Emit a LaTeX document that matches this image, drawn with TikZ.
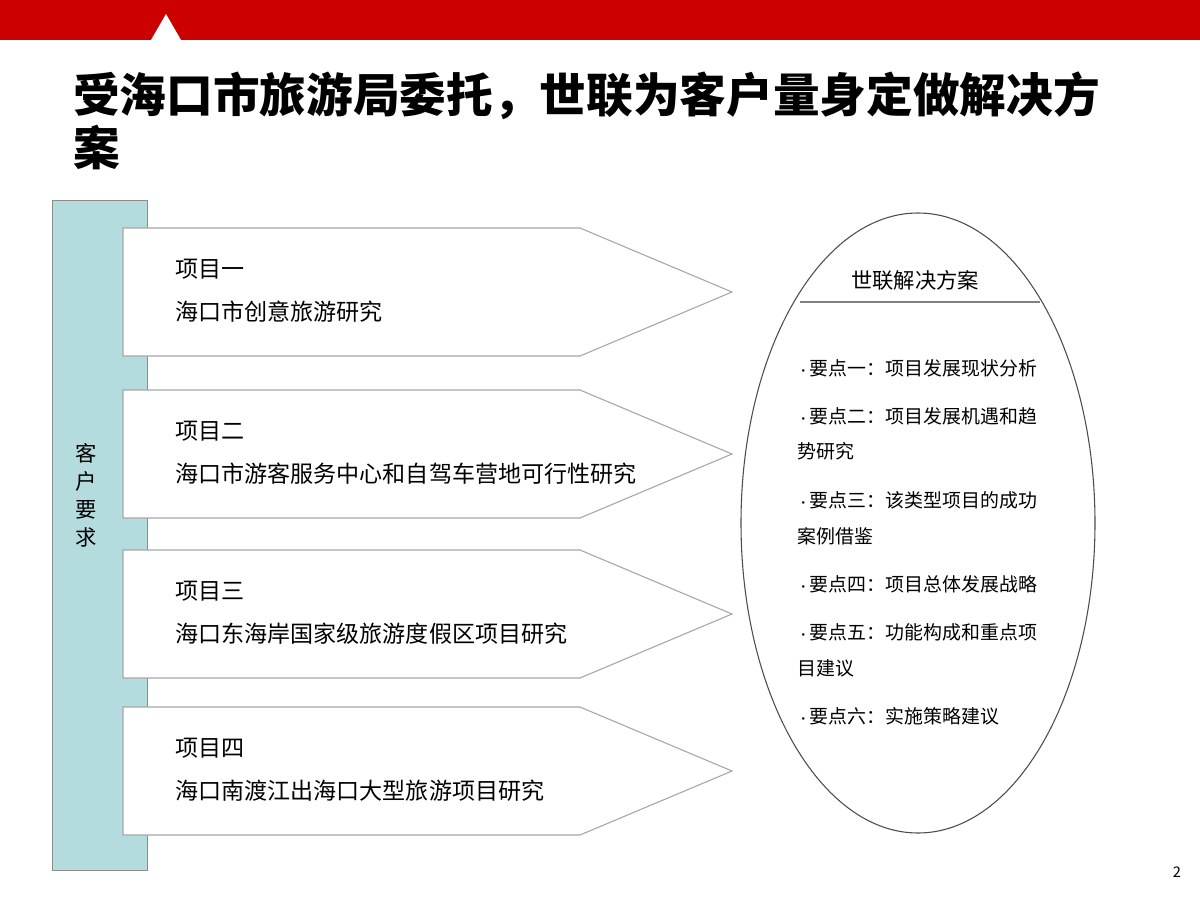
\documentclass[tikz,border=0pt]{standalone}
\usepackage{fontspec}
\setmainfont{Noto Sans CJK SC}
\definecolor{barc}{RGB}{180,220,222}
\begin{document}
\begin{tikzpicture}[x=0.75pt,y=-0.75pt,
  arrowbox/.style={draw=black!35,fill=white,line width=0.8pt},
  txt/.style={anchor=west,inner sep=0pt,font=\fontsize{17.3}{17.3}\selectfont},
  bul/.style={anchor=west,inner sep=0pt,font=\fontsize{14.2}{14.2}\selectfont}]
\useasboundingbox (0,0) rectangle (1200,900);
\fill[white] (0,0) rectangle (1200,900);
\fill[red!80!black] (0,0) rectangle (1200,40);
\fill[white] (151,40) -- (166,14) -- (181,40) -- cycle;
\node[anchor=west,inner sep=0pt,font=\bfseries\fontsize{35}{35}\selectfont] (t1) at (73,96) {受海口市旅游局委托，世联为客户量身定做解决方};
\node[anchor=west,inner sep=0pt,font=\bfseries\fontsize{35}{35}\selectfont] (t2) at (73,148) {案};
\node[draw=black!45,fill=barc,minimum width=71.25pt,minimum height=502.5pt,inner sep=0pt] (bar) at (100,535) {};
\node[font=\fontsize{16}{16}\selectfont,align=center,inner sep=0pt] (req) at (86,495) {客\\[5pt]户\\[5pt]要\\[5pt]求};
\foreach \y/\a/\b [count=\i] in {292/项目一/海口市创意旅游研究,454/项目二/海口市游客服务中心和自驾车营地可行性研究,614/项目三/海口东海岸国家级旅游度假区项目研究,771/项目四/海口南渡江出海口大型旅游项目研究}{
  \draw[arrowbox] (123,\y-64) -- (580,\y-64) -- (732,\y) -- (580,\y+64) -- (123,\y+64) -- cycle;
  \node[txt] (h\i) at (175,\y-23) {\a};
  \node[txt] (d\i) at (175,\y+20) {\b};
}
\draw[black!70,line width=0.8pt] (918,523) ellipse [x radius=177, y radius=310];
\node[inner sep=0pt,font=\fontsize{16}{16}\selectfont] (sh) at (915,280) {世联解决方案};
\draw[black!50,line width=0.8pt] (800,302) -- (1040,302);
\foreach \y/\s in {368/要点一：项目发展现状分析,416/要点二：项目发展机遇和趋,500/要点三：该类型项目的成功,584/要点四：项目总体发展战略,632/要点五：功能构成和重点项,716/要点六：实施策略建议}{
  \node[bul] at (797,\y) {\fontsize{9}{9}\selectfont•\kern0.5pt\fontsize{14.2}{14.2}\selectfont\s};
}
\foreach \y/\s in {451/势研究,536/案例借鉴,668/目建议}{
  \node[bul] at (797,\y) {\s};
}
\node[inner sep=0pt,font=\fontsize{11}{11}\selectfont] (pg) at (1177,872) {2};
\end{tikzpicture}
\end{document}
